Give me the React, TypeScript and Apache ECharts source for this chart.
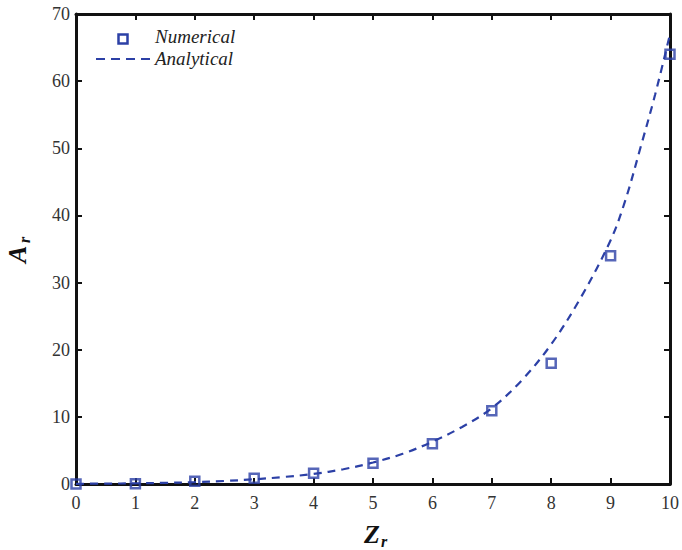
import React, { useEffect, useRef } from "react";
import * as echarts from "echarts";

const numX = [0, 1, 2, 3, 4, 5, 6, 7, 8, 9, 10];
const numY = [0, 0.05, 0.4, 0.85, 1.6, 3.1, 6.0, 10.9, 18.0, 34.0, 64.0];

const anaX = [0, 0.5, 1, 1.5, 2, 2.5, 3, 3.5, 4, 4.5, 5, 5.5, 6, 6.5, 7, 7.5, 8, 8.5, 9, 9.25, 9.5, 9.75, 10];
const anaY = [0.03, 0.06, 0.1, 0.17, 0.28, 0.45, 0.7, 1.05, 1.5, 2.2, 3.2, 4.5, 6.3, 8.5, 11.3, 15.4, 20.8, 27.8, 36.3, 42.3, 50.0, 58.0, 67.0];

const xTicks = { min: 0, max: 10, interval: 1 };
const yTicks = { min: 0, max: 70, interval: 10 };

const legendNames = ["Numerical", "Analytical"];

const BLUE = "#2c40a6";
const SERIF = "'Liberation Serif', 'DejaVu Serif', serif";

export default function App() {
  const ref = useRef<HTMLDivElement>(null);
  useEffect(() => {
    document.body.style.margin = "0";
    const chart = echarts.init(ref.current!, null, { renderer: "svg" });
    const axisLine = { show: true, onZero: false, lineStyle: { color: "#111", width: 3 } };
    const tick = { show: true, inside: true, length: 6, lineStyle: { color: "#111", width: 2 } };
    const label = { color: "#333", fontFamily: SERIF, fontSize: 18 };
    const legendFont = `italic 19px ${SERIF}`;
    chart.setOption({
      animation: false,
      backgroundColor: "#fff",
      grid: { left: 76, right: 9, top: 14, bottom: 66, containLabel: false },
      xAxis: [
        {
          type: "value",
          ...xTicks,
          position: "bottom",
          axisLine,
          axisTick: tick,
          splitLine: { show: false },
          axisLabel: { ...label, margin: 10 },
        },
        {
          type: "value",
          ...xTicks,
          position: "top",
          axisLine,
          axisTick: tick,
          splitLine: { show: false },
          axisLabel: { show: false },
        },
      ],
      yAxis: [
        {
          type: "value",
          ...yTicks,
          position: "left",
          axisLine,
          axisTick: tick,
          splitLine: { show: false },
          axisLabel: { ...label, margin: 6 },
        },
        {
          type: "value",
          ...yTicks,
          position: "right",
          axisLine,
          axisTick: tick,
          splitLine: { show: false },
          axisLabel: { show: false },
        },
      ],
      series: [
        {
          name: "Analytical",
          type: "line",
          data: anaX.map((x, i) => [x, anaY[i]]),
          smooth: 0.35,
          symbol: "none",
          lineStyle: { color: BLUE, width: 2.2, type: [8, 6] },
          itemStyle: { color: BLUE },
          z: 2,
        },
        {
          name: "Numerical",
          type: "scatter",
          data: numX.map((x, i) => [x, numY[i]]),
          symbol: "rect",
          symbolSize: 9,
          itemStyle: { color: "rgba(255,255,255,0)", borderColor: BLUE, borderWidth: 2.5 },
          z: 3,
        },
      ],
      graphic: [
        // legend
        {
          type: "rect",
          left: 116,
          top: 32,
          shape: { width: 9, height: 9 },
          style: { fill: "none", stroke: BLUE, lineWidth: 2.5 },
        },
        {
          type: "line",
          shape: { x1: 96, y1: 59, x2: 150, y2: 59 },
          style: { stroke: BLUE, lineWidth: 2.2, lineDash: [9, 6] },
        },
        { type: "text", left: 155, top: 27, style: { text: legendNames[0], font: legendFont, fill: "#222" } },
        { type: "text", left: 155, top: 49, style: { text: legendNames[1], font: legendFont, fill: "#222" } },
        // axis titles
        { type: "text", left: 364, top: 521, style: { text: "Z", font: `italic bold 26px ${SERIF}`, fill: "#111" } },
        { type: "text", left: 381, top: 533, style: { text: "r", font: `italic bold 16px ${SERIF}`, fill: "#111" } },
        {
          type: "text",
          x: 4,
          y: 263,
          rotation: Math.PI / 2,
          style: { text: "A", font: `italic bold 26px ${SERIF}`, fill: "#111", align: "left", verticalAlign: "top" },
        },
        {
          type: "text",
          x: 16,
          y: 243,
          rotation: Math.PI / 2,
          style: { text: "r", font: `italic bold 16px ${SERIF}`, fill: "#111", align: "left", verticalAlign: "top" },
        },
      ],
    });
    return () => chart.dispose();
  }, []);
  return <div ref={ref} style={{ width: 682, height: 550 }} />;
}
